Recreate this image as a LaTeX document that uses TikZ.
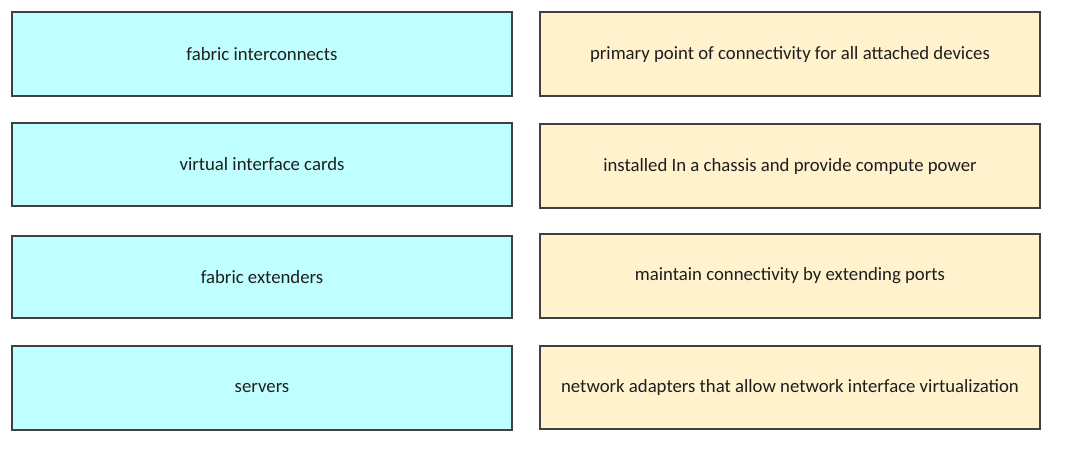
\documentclass[tikz,border=0pt]{standalone}
\usepackage{fontspec}
\setmainfont{Carlito}
\definecolor{lbox}{HTML}{C0FFFF}
\definecolor{rbox}{HTML}{FFF2CC}
\definecolor{edge}{HTML}{404040}
\definecolor{txt}{HTML}{1E1E1E}
\begin{document}
\begin{tikzpicture}[x=1pt,y=-1pt,
  term/.style={draw=edge,line width=1.1pt,fill=lbox,text=txt,font=\fontsize{18.75}{22}\selectfont},
  defn/.style={draw=edge,line width=1.1pt,fill=rbox,text=txt,font=\fontsize{18.75}{22}\selectfont}]
\useasboundingbox (0,0) rectangle (1076,451);
\node[term,minimum width=500pt,minimum height=84pt] (t1) at (262,54) {fabric interconnects};
\node[term,minimum width=500pt,minimum height=83pt] (t2) at (262,164.5) {virtual interface cards};
\node[term,minimum width=500pt,minimum height=82pt] (t3) at (262,277) {fabric extenders};
\node[term,minimum width=500pt,minimum height=84pt] (t4) at (262,388) {servers};
\node[defn,minimum width=500pt,minimum height=84pt] (d1) at (790,54) {primary point of connectivity for all attached devices};
\node[defn,minimum width=500pt,minimum height=84pt] (d2) at (790,166) {installed In a chassis and provide compute power};
\node[defn,minimum width=500pt,minimum height=84pt] (d3) at (790,276) {maintain connectivity by extending ports};
\node[defn,minimum width=500pt,minimum height=83pt] (d4) at (790,387.5) {network adapters that allow network interface virtualization};
\end{tikzpicture}
\end{document}
